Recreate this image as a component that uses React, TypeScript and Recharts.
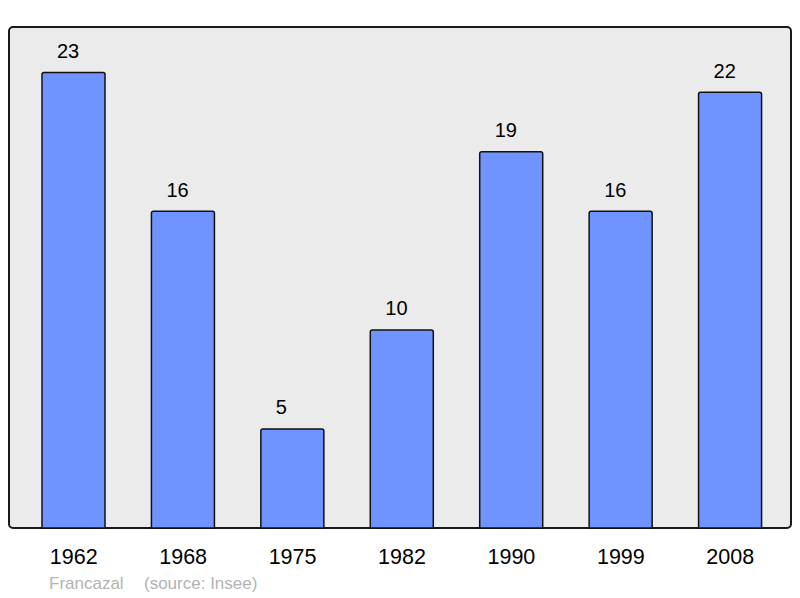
import React from "react";
import { BarChart, Bar, XAxis, YAxis, LabelList } from "recharts";

const years = ["1962", "1968", "1975", "1982", "1990", "1999", "2008"];
const population = [23, 16, 5, 10, 19, 16, 22];
const footerName = "Francazal";
const footerSource = "(source: Insee)";

const data = years.map((y, i) => ({ year: y, value: population[i] }));

const renderLabel = (props: any) => {
  const { x, y, width, value } = props;
  return (
    <text
      x={Number(x) + Number(width) / 2 - 16.5}
      y={Number(y) - 14.5}
      textAnchor="start"
      fontFamily="'Liberation Sans', Arial, sans-serif"
      fontSize={20}
      fill="#000"
    >
      {value}
    </text>
  );
};

export default function App() {
  return (
    <div style={{ position: "absolute", left: 0, top: 0, width: 800, height: 598, background: "#fff" }}>
      <div
        style={{
          position: "absolute",
          left: 8,
          top: 26,
          width: 784,
          height: 503,
          boxSizing: "border-box",
          border: "2px solid #1a1a1a",
          borderRadius: 5,
          background: "#ebebeb",
        }}
      />
      <div style={{ position: "absolute", left: 0, top: 0 }}>
        <BarChart
          width={800}
          height={598}
          data={data}
          margin={{ top: 27, left: 9, right: 9, bottom: 0 }}
          barCategoryGap={0}
        >
          <XAxis
            dataKey="year"
            axisLine={false}
            tickLine={false}
            tickSize={0}
            tickMargin={21}
            height={70}
            padding={{ left: 10, right: 6 }}
            interval={0}
            tick={{ fill: "#000", fontSize: 21.5, fontFamily: "'Liberation Sans', Arial, sans-serif" }}
          />
          <YAxis hide domain={[0, 25.3]} />
          <Bar
            dataKey="value"
            fill="#7094ff"
            stroke="#111"
            strokeWidth={1.5}
            barSize={63}
            radius={[2, 2, 0, 0]}
            isAnimationActive={false}
          >
            <LabelList dataKey="value" content={renderLabel} />
          </Bar>
        </BarChart>
      </div>
      <div
        style={{
          position: "absolute",
          left: 49,
          top: 574,
          fontFamily: "'Liberation Sans', Arial, sans-serif",
          fontSize: 17,
          color: "#b3b3b3",
          whiteSpace: "pre",
          lineHeight: "20px",
        }}
      >
        {footerName}
      </div>
      <div
        style={{
          position: "absolute",
          left: 144,
          top: 574,
          fontFamily: "'Liberation Sans', Arial, sans-serif",
          fontSize: 17,
          color: "#b3b3b3",
          whiteSpace: "pre",
          lineHeight: "20px",
        }}
      >
        {footerSource}
      </div>
    </div>
  );
}
